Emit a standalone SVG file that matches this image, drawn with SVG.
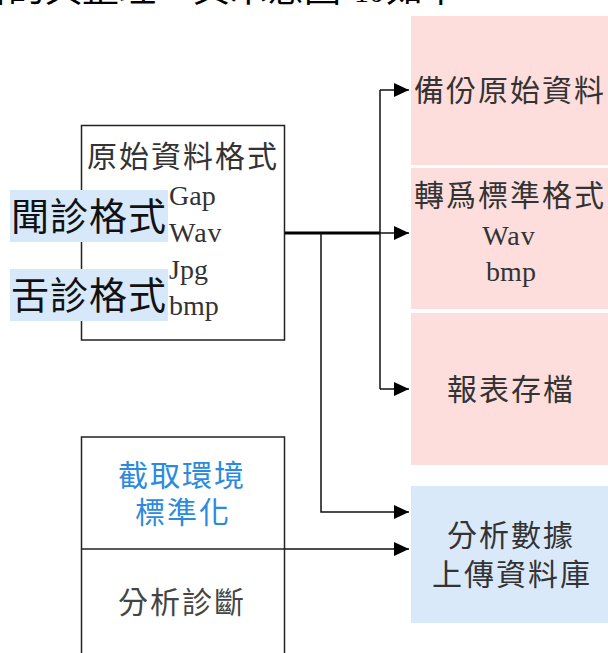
<svg xmlns="http://www.w3.org/2000/svg" width="608" height="653" viewBox="0 0 608 653">
<style>
.cjk{font-family:"Noto Sans CJK TC","Noto Sans CJK SC",sans-serif;}
.lat{font-family:"Liberation Serif",serif;}
.box{fill:#fff;stroke:#222;stroke-width:1.5;}
.pink{fill:#fddedd;}
.blue{fill:#dae9fa;}
.hl{fill:#d6e8fa;}
.t{fill:#333;}
.m{font-size:30px;letter-spacing:2px;}
.conn{fill:none;stroke:#111;stroke-width:1.5;}
</style>
<defs>
<marker id="ah" markerUnits="userSpaceOnUse" markerWidth="16" markerHeight="14" refX="15" refY="7" orient="auto">
<path d="M0,0 L15,7 L0,14 z" fill="#000"/>
</marker>
</defs>
<g id="caption">
<text class="cjk" font-size="37" y="2" fill="#000"><tspan x="-29">料的具整理，其示意圖</tspan></text>
<text class="lat" font-size="30" x="354" y="2" fill="#000">10</text>
<text class="cjk" font-size="37" x="386" y="2" fill="#000">如下</text>
</g>
<g id="backup">
<rect class="pink" x="411" y="16" width="197" height="149"/>
<text class="cjk t m" x="414" y="101">備份原始資料</text>
</g>
<g id="convert">
<rect class="pink" x="411" y="168" width="197" height="141"/>
<text class="cjk t m" x="414" y="206">轉爲標準格式</text>
<text class="lat t" font-size="28" x="509" y="245" text-anchor="middle" letter-spacing="1">Wav</text>
<text class="lat t" font-size="28" x="511" y="281" text-anchor="middle">bmp</text>
</g>
<g id="report">
<rect class="pink" x="411" y="313" width="197" height="152"/>
<text class="cjk t m" x="511" y="400" text-anchor="middle">報表存檔</text>
</g>
<g id="upload">
<rect class="blue" x="411" y="486" width="197" height="137"/>
<text class="cjk t m" x="511" y="546" text-anchor="middle">分析數據</text>
<text class="cjk t m" x="512" y="585" text-anchor="middle">上傳資料庫</text>
</g>
<g id="raw">
<rect class="box" x="81.5" y="125.5" width="203" height="214.5"/>
<text class="cjk t m" x="87" y="167">原始資料格式</text>
<rect class="hl" x="10" y="190" width="158" height="52"/>
<text class="cjk" font-size="38" letter-spacing="1" x="11" y="230" fill="#111">聞診格式</text>
<rect class="hl" x="10" y="269" width="158" height="52"/>
<text class="cjk" font-size="38" letter-spacing="1" x="11" y="309" fill="#111">舌診格式</text>
<text class="lat t" font-size="28" x="169" y="205">Gap</text>
<text class="lat t" font-size="28" x="169" y="242" letter-spacing="1">Wav</text>
<text class="lat t" font-size="28" x="169" y="279">Jpg</text>
<text class="lat t" font-size="28" x="169" y="315">bmp</text>
</g>
<g id="analysis">
<rect class="box" x="81.5" y="437" width="203" height="260"/>
<line x1="81.5" y1="549" x2="284.5" y2="549" stroke="#222" stroke-width="1.5"/>
<text class="cjk m" x="182" y="486" text-anchor="middle" fill="#2b8ae0">截取環境</text>
<text class="cjk m" x="183" y="523" text-anchor="middle" fill="#2b8ae0">標準化</text>
<text class="cjk m" x="182" y="613" text-anchor="middle" fill="#444">分析診斷</text>
</g>
<g id="connectors">
<path d="M285 233 H380" fill="none" stroke="#000" stroke-width="3"/>
<path class="conn" d="M380 90 V389"/>
<path class="conn" d="M380 90 H409" marker-end="url(#ah)"/>
<path class="conn" d="M380 233 H409" marker-end="url(#ah)"/>
<path class="conn" d="M380 389 H409" marker-end="url(#ah)"/>
<path class="conn" d="M321 233 V512 H409" marker-end="url(#ah)"/>
<path class="conn" d="M285 549 H409" marker-end="url(#ah)"/>
</g>
</svg>
